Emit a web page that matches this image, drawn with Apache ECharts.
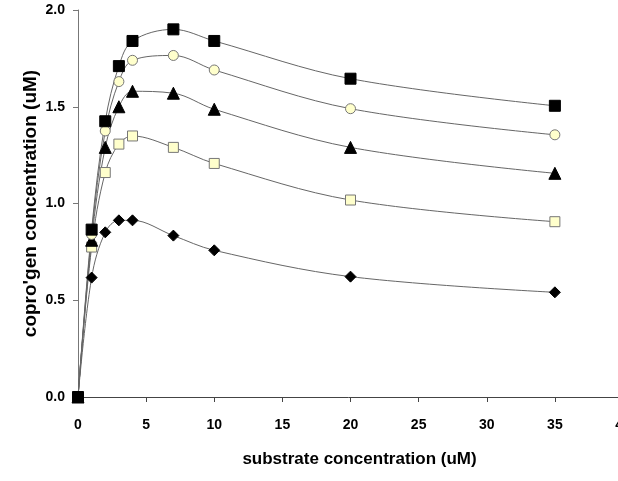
<!DOCTYPE html>
<html>
<head>
<meta charset="utf-8">
<script src="https://cdn.jsdelivr.net/npm/echarts@6/dist/echarts.min.js"></script>
<style>
  html, body { margin: 0; padding: 0; background: #fff; overflow: hidden; }
  #chart { width: 618px; height: 481px; }
</style>
</head>
<body>
<div id="chart"></div>
<script>
// substrate concentration (uM)
const xValues = [0, 1, 2, 3, 4, 7, 10, 20, 35];
// copro'gen concentration (uM), one array per curve
const blackSquare = [0, 0.865, 1.425, 1.71, 1.84, 1.90, 1.84, 1.645, 1.505];
const creamCircle = [0, 0.84, 1.375, 1.63, 1.74, 1.765, 1.69, 1.49, 1.355];
const blackTriangle = [0, 0.81, 1.29, 1.50, 1.58, 1.57, 1.487, 1.29, 1.156];
const creamSquare = [0, 0.775, 1.16, 1.307, 1.349, 1.29, 1.207, 1.018, 0.906];
const blackDiamond = [0, 0.617, 0.851, 0.913, 0.913, 0.834, 0.758, 0.622, 0.541];

const chart = echarts.init(document.getElementById('chart'));

function pairs(ys) {
  return xValues.map((x, i) => [x, ys[i]]);
}

function curve(ys, symbol, fill, size) {
  return {
    type: 'line',
    data: pairs(ys),
    smooth: 0.35,
    symbol: symbol,
    symbolSize: size,
    lineStyle: { color: '#666', width: 1 },
    itemStyle: {
      color: fill,
      borderColor: fill === '#000' ? '#000' : '#777',
      borderWidth: 1
    },
    emphasis: { disabled: true },
    animation: false
  };
}

const boldText = { fontFamily: 'Liberation Sans, Arial, sans-serif', fontWeight: 'bold', color: '#000' };

chart.setOption({
  backgroundColor: '#fff',
  // the x axis runs to 40, a few pixels past the right edge of the picture
  grid: { left: 78, top: 10, bottom: 84, width: 545, outerBoundsMode: 'none' },
  xAxis: {
    type: 'value',
    min: 0, max: 40, interval: 5,
    name: 'substrate concentration (uM)',
    nameLocation: 'middle',
    nameGap: 54,
    nameMoveOverlap: false,
    nameTextStyle: Object.assign({ fontSize: 17, padding: [0, 0, 0, 18] }, boldText),
    axisLine: { lineStyle: { color: '#444', width: 1 } },
    axisTick: { show: true, inside: false, length: 5, lineStyle: { color: '#444' } },
    axisLabel: Object.assign({ fontSize: 14, margin: 21 }, boldText),
    splitLine: { show: false }
  },
  yAxis: {
    type: 'value',
    min: 0, max: 2, interval: 0.5,
    name: "copro'gen concentration (uM)",
    nameLocation: 'middle',
    nameGap: 38,
    nameMoveOverlap: false,
    nameRotate: 90,
    nameTextStyle: Object.assign({ fontSize: 19 }, boldText),
    axisLine: { show: true, lineStyle: { color: '#777', width: 1 } },
    axisTick: { show: true, length: 5, lineStyle: { color: '#777' } },
    axisLabel: Object.assign({ fontSize: 14, margin: 13, formatter: v => v.toFixed(1) }, boldText),
    splitLine: { show: false }
  },
  series: [
    curve(blackDiamond, 'diamond', '#000', 11),
    curve(creamSquare, 'rect', '#ffffcc', 10),
    curve(blackTriangle, 'triangle', '#000', 12),
    curve(creamCircle, 'circle', '#ffffcc', 10),
    curve(blackSquare, 'rect', '#000', 11)
  ]
});
</script>
</body>
</html>
